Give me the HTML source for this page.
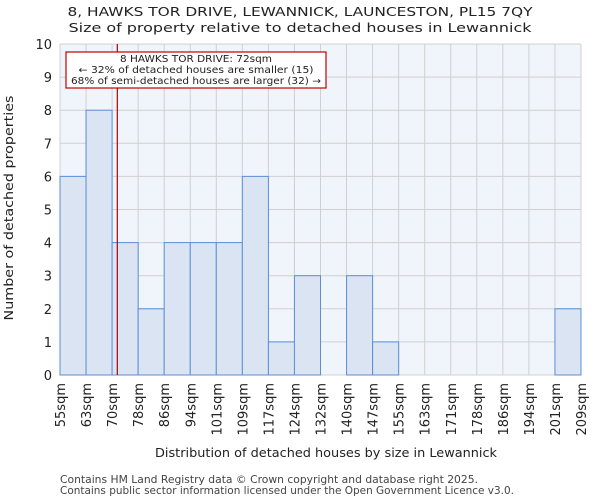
<!DOCTYPE html>
<html><head><meta charset="utf-8"><style>
body{margin:0;background:#fff;font-family:"DejaVu Sans","Liberation Sans",sans-serif;}
</style></head><body>
<svg id="chart" width="600" height="500" font-family="DejaVu Sans, Liberation Sans, sans-serif">
<text x="300" y="16" text-anchor="middle" font-size="12.5" fill="#222" textLength="465" lengthAdjust="spacingAndGlyphs">8, HAWKS TOR DRIVE, LEWANNICK, LAUNCESTON, PL15 7QY</text>
<text x="300" y="32" text-anchor="middle" font-size="12.5" fill="#222" textLength="463" lengthAdjust="spacingAndGlyphs">Size of property relative to detached houses in Lewannick</text>
<g id="plot"></g>
<text x="326" y="457" text-anchor="middle" font-size="12.5" fill="#222" textLength="342" lengthAdjust="spacingAndGlyphs">Distribution of detached houses by size in Lewannick</text>
<text transform="translate(13,208) rotate(-90)" text-anchor="middle" font-size="12.5" fill="#222" textLength="225" lengthAdjust="spacingAndGlyphs">Number of detached properties</text>
<text x="60" y="483" font-size="10.5" fill="#444" textLength="418" lengthAdjust="spacingAndGlyphs">Contains HM Land Registry data © Crown copyright and database right 2025.</text>
<text x="60" y="494" font-size="10.5" fill="#444" textLength="454" lengthAdjust="spacingAndGlyphs">Contains public sector information licensed under the Open Government Licence v3.0.</text>
</svg>
<script>
const categories=["55sqm","63sqm","70sqm","78sqm","86sqm","94sqm","101sqm","109sqm","117sqm","124sqm","132sqm","140sqm","147sqm","155sqm","163sqm","171sqm","178sqm","186sqm","194sqm","201sqm","209sqm"];
const counts=[6,8,4,2,4,4,4,6,1,3,0,3,1,0,0,0,0,0,0,2];
const yTicks=[0,1,2,3,4,5,6,7,8,9,10];
const markerIndex=2.2;
const NS="http://www.w3.org/2000/svg";
const L=60,R=581,T=44,B=375,yMax=10;
const n=counts.length;
const xs=i=>L+(R-L)*i/n;
const ys=v=>B-(B-T)*v/yMax;
const g=document.getElementById('plot');
function mk(t,a,p){const e=document.createElementNS(NS,t);for(const k in a)e.setAttribute(k,a[k]);(p||g).appendChild(e);return e;}
const bg=mk('rect',{x:L,y:T,width:R-L,height:B-T,fill:'#f0f4fb'});


for(let i=0;i<=n;i++){const l=mk('line',{x1:xs(i),x2:xs(i),y1:T,y2:B,stroke:'#d0d0d0','stroke-width':1});

}
yTicks.forEach(v=>{const l=mk('line',{x1:L,x2:R,y1:ys(v),y2:ys(v),stroke:'#d0d0d0','stroke-width':1});


const t=mk('text',{x:L-8,y:ys(v)+5,'text-anchor':'end','font-size':13,fill:'#222'});t.textContent=v;

});
counts.forEach((c,i)=>{if(c<=0)return;const r=mk('rect',{x:xs(i),y:ys(c),width:xs(i+1)-xs(i),height:ys(0)-ys(c),fill:'#dae4f3',stroke:'#5b8fd6','stroke-width':1});

});
categories.forEach((c,i)=>{const t=mk('text',{transform:`translate(${xs(i)+5},${B+8}) rotate(-90)`,'text-anchor':'end','font-size':13,fill:'#222'});t.textContent=c;

});
const ml=mk('line',{x1:xs(markerIndex),x2:xs(markerIndex),y1:T,y2:B,stroke:'#b00000','stroke-width':1.2});


const box=mk('rect',{x:66,y:52,width:260,height:36,fill:'#fff',stroke:'#c00000','stroke-width':1.2});


const annLines=["8 HAWKS TOR DRIVE: 72sqm","← 32% of detached houses are smaller (15)","68% of semi-detached houses are larger (32) →"];
const annW=[152,235,250];
annLines.forEach((s,k)=>{const t=mk('text',{x:196,y:62+k*11,'text-anchor':'middle','font-size':9.5,fill:'#222',textLength:annW[k],lengthAdjust:'spacingAndGlyphs'});t.textContent=s;

});
</script>
</body></html>
